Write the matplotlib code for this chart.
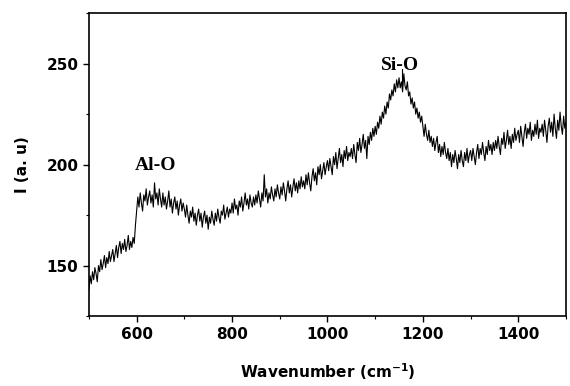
import numpy as np
import matplotlib
matplotlib.use("Agg")
import matplotlib.pyplot as plt
from matplotlib.ticker import MultipleLocator

# ---------------- DATA ----------------
wavenumber = np.arange(500, 1500.1, 2.5)

intensity = [
    # 500 - 547.5
    138, 145, 141, 147, 143, 149, 146, 142, 150, 147,
    153, 148, 151, 155, 149, 154, 151, 157, 152, 155,
    # 550 - 597.5
    158, 152, 156, 160, 154, 159, 162, 156, 161, 158,
    163, 157, 160, 165, 158, 162, 159, 164, 161, 170,
    # 600 - 647.5
    177, 184, 179, 186, 181, 177, 185, 182, 188, 180,
    184, 187, 181, 185, 179, 191, 183, 186, 180, 188,
    # 650 - 697.5
    183, 179, 186, 180, 184, 178, 182, 187, 179, 183,
    176, 181, 184, 178, 182, 175, 180, 183, 177, 181,
    # 700 - 747.5
    178, 174, 180, 175, 171, 177, 174, 179, 172, 176,
    170, 175, 178, 172, 176, 169, 174, 177, 171, 175,
    # 750 - 797.5
    168, 174, 171, 177, 173, 170, 176, 172, 178, 174,
    171, 177, 175, 180, 173, 176, 179, 174, 178, 176,
    # 800 - 847.5
    181, 176, 183, 178, 180, 175, 182, 179, 184, 177,
    181, 186, 180, 183, 178, 185, 181, 179, 184, 180,
    # 850 - 897.5
    185, 181, 187, 183, 179, 186, 182, 195, 184, 188,
    181, 186, 183, 189, 185, 182, 188, 184, 190, 186,
    # 900 - 947.5
    183, 189, 185, 191, 187, 182, 188, 192, 186, 190,
    184, 189, 193, 187, 191, 186, 192, 188, 194, 189,
    # 950 - 997.5
    192, 188, 195, 190, 196, 191, 187, 194, 198, 192,
    196, 190, 199, 195, 200, 193, 197, 201, 195, 199,
    # 1000 - 1047.5
    202, 197, 203, 199, 195, 204, 200, 206, 198, 203,
    208, 201, 205, 199, 207, 203, 209, 202, 206, 204,
    # 1050 - 1097.5
    208, 203, 210, 205, 201, 211, 207, 213, 206, 210,
    215, 208, 212, 203, 214, 210, 216, 212, 218, 214,
    # 1100 - 1147.5
    219, 215, 221, 218, 224, 220, 226, 223, 229, 225,
    231, 228, 235, 232, 237, 234, 240, 236, 242, 238,
    # 1150 - 1197.5
    243, 238, 241, 236, 245, 239, 237, 241, 234, 236,
    230, 233, 228, 231, 225, 228, 223, 226, 221, 224,
    # 1200 - 1247.5
    219, 214, 220, 215, 212, 217, 211, 214, 209, 213,
    207, 211, 214, 206, 210, 204, 209, 205, 211, 206,
    # 1250 - 1297.5
    203, 208, 202, 206, 199, 205, 201, 207, 203, 198,
    205, 201, 207, 202, 199, 206, 202, 208, 201, 205,
    # 1300 - 1347.5
    207, 202, 208, 204, 200, 206, 210, 203, 208, 205,
    211, 206, 202, 209, 205, 212, 207, 210, 205, 211,
    # 1350 - 1397.5
    207, 212, 208, 214, 209, 205, 213, 210, 216, 208,
    212, 217, 210, 214, 208, 215, 211, 218, 212, 215,
    # 1400 - 1447.5
    217, 211, 219, 214, 209, 216, 220, 213, 218, 215,
    221, 212, 217, 214, 220, 215, 222, 213, 218, 216,
    # 1450 - 1497.5
    220, 214, 222, 217, 211, 219, 223, 216, 221, 214,
    225, 218, 213, 222, 217, 226, 219, 215, 224, 218,
    # 1500
    221,
]

peak_labels = ["Al-O", "Si-O"]
peak_pos = [640, 1152]
peak_text_y = [199.5, 249]

x_ticks = [600, 800, 1000, 1200, 1400]
y_ticks = [150, 200, 250]

# ---------------- PLOT ----------------
fig = plt.figure(figsize=(5.7, 3.86), dpi=100)
ax = fig.add_axes([0.156, 0.181, 0.837, 0.785])

ax.plot(wavenumber, intensity, color="black", lw=0.8)

ax.set_xlim(500, 1500)
ax.set_ylim(125, 275)
ax.set_xticks(x_ticks)
ax.set_yticks(y_ticks)
ax.xaxis.set_minor_locator(MultipleLocator(100))
ax.yaxis.set_minor_locator(MultipleLocator(25))

ax.tick_params(which="major", direction="out", length=4, width=1,
               top=False, right=False, labelsize=11)
ax.tick_params(which="minor", direction="out", length=2.5, width=0.8,
               top=False, right=False)
for lab in ax.get_xticklabels() + ax.get_yticklabels():
    lab.set_fontfamily("DejaVu Sans")
    lab.set_fontweight("bold")

for sp in ax.spines.values():
    sp.set_linewidth(1.2)

ax.set_xlabel("Wavenumber (cm$^{\\mathbf{-1}}$)", fontsize=11,
              fontweight="bold", family="DejaVu Sans", labelpad=14)
ax.set_ylabel("I (a. u)", fontsize=11, fontweight="bold",
              family="DejaVu Sans", labelpad=12)

for lbl, xp, yp in zip(peak_labels, peak_pos, peak_text_y):
    ax.text(xp, yp, lbl, ha="center", va="center", fontsize=14,
            fontweight="bold", family="Liberation Serif")

# small marker line under Si-O
ax.plot([1157, 1157], [240, 247.5], color="black", lw=0.8)

fig.savefig("out.png", dpi=100)
